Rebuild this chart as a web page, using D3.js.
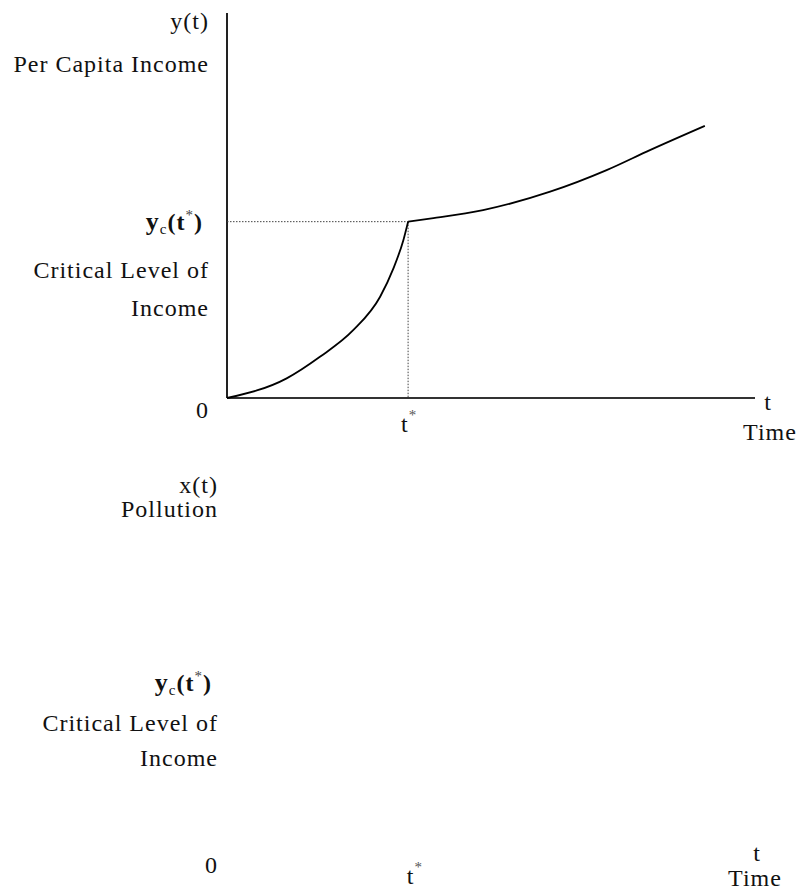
<!DOCTYPE html>
<html lang="en">
<head>
    <meta charset="UTF-8">
    <title>Per Capita Income and Pollution over Time</title>
    <script src="https://d3js.org/d3.v7.min.js"></script>
    <style>
        body {
            margin: 0;
            background: #ffffff;
        }
        svg text {
            font-family: 'Liberation Serif', 'Times New Roman', serif;
            font-size: 24px;
            letter-spacing: 1px;
            fill: #111;
        }
    </style>
</head>
<body>
<div id="chart"></div>
<script>
    // income path y(t), split at the kink t*
    const tStar = 34.3;
    const yCritical = 45.8;
    const beforeKink = [
        {t: 0, y: 0}, {t: 11.3, y: 5.1}, {t: 17.6, y: 10.7}, {t: 23.9, y: 17.6},
        {t: 29.0, y: 26.3}, {t: 31.5, y: 33.6}, {t: 33.4, y: 41.0}, {t: 34.3, y: 45.8}
    ];
    const afterKink = [
        {t: 34.3, y: 45.8}, {t: 39.1, y: 46.7}, {t: 48.5, y: 48.8}, {t: 61.2, y: 53.6},
        {t: 71.9, y: 59.2}, {t: 80.1, y: 64.4}, {t: 90.5, y: 70.7}
    ];
    const topLabels = ["y(t)", "Per Capita Income"];
    const critLabels = ["Critical Level of", "Income"];
    const bottomLabels = ["x(t)", "Pollution"];

    const width = 801, height = 890;

    const svg = d3.select("#chart").append("svg")
        .attr("width", width)
        .attr("height", height);

    // upper panel scales
    const x = d3.scaleLinear().domain([0, 100]).range([227, 755]);
    const y = d3.scaleLinear().domain([0, 100]).range([398, 13]);

    // lower panel (labels only in the source)
    const x2 = d3.scaleLinear().domain([0, 100]).range([236, 740]);
    const y2 = d3.scaleLinear().domain([0, 100]).range([853, 488]);

    // axes
    svg.append("line")
        .attr("x1", x(0)).attr("x2", x(0))
        .attr("y1", y(0)).attr("y2", y(100))
        .attr("stroke", "#222").attr("stroke-width", 2);
    svg.append("line")
        .attr("x1", x(0)).attr("x2", x(100))
        .attr("y1", y(0)).attr("y2", y(0))
        .attr("stroke", "#333").attr("stroke-width", 2);

    // dotted guides
    svg.append("line")
        .attr("x1", x(0)).attr("x2", x(tStar))
        .attr("y1", y(yCritical)).attr("y2", y(yCritical))
        .attr("stroke", "#444").attr("stroke-width", 1)
        .attr("stroke-dasharray", "1.5,1.5");
    svg.append("line")
        .attr("x1", x(tStar)).attr("x2", x(tStar))
        .attr("y1", y(yCritical)).attr("y2", y(0))
        .attr("stroke", "#444").attr("stroke-width", 1)
        .attr("stroke-dasharray", "1.5,1.5");

    const line = d3.line()
        .x(d => x(d.t))
        .y(d => y(d.y))
        .curve(d3.curveMonotoneX);

    [beforeKink, afterKink].forEach(seg => {
        svg.append("path")
            .datum(seg)
            .attr("d", line)
            .attr("fill", "none")
            .attr("stroke", "#000")
            .attr("stroke-width", 1.8);
    });

    // y_c(t*) label with sub/superscripts
    function critLabel(xr, yb) {
        const t = svg.append("text")
            .attr("x", xr).attr("y", yb)
            .attr("text-anchor", "end");
        t.append("tspan").attr("font-weight", "bold").attr("font-size", "26px").text("y");
        t.append("tspan").attr("font-size", "15px").attr("dy", 4).text("c");
        t.append("tspan").attr("font-weight", "bold").attr("dy", -4).text("(t");
        t.append("tspan").attr("font-size", "15px").attr("dy", -10).attr("fill", "#444").text("*");
        t.append("tspan").attr("font-weight", "bold").attr("dy", 10).text(")");
    }

    function tStarLabel(xl, yb) {
        const t = svg.append("text").attr("x", xl).attr("y", yb);
        t.append("tspan").text("t");
        t.append("tspan").attr("font-size", "15px").attr("dy", -12).attr("fill", "#555").text("*");
    }

    function stack(lines, xr, yb, gap) {
        lines.forEach((s, i) => {
            svg.append("text")
                .attr("x", xr).attr("y", yb + i * gap)
                .attr("text-anchor", "end")
                .text(s);
        });
    }

    // upper panel labels
    stack(topLabels, x(0) - 18, y(100) + 16, 43);
    critLabel(x(0) - 24, y(yCritical) + 8);
    stack(critLabels, x(0) - 18, y(yCritical) + 56, 38);
    svg.append("text").attr("x", x(0) - 18).attr("y", y(0) + 20)
        .attr("text-anchor", "end").text("0");
    tStarLabel(x(tStar) - 7, y(0) + 34);
    svg.append("text").attr("x", x(100) + 13).attr("y", y(0) + 12)
        .attr("text-anchor", "middle").text("t");
    svg.append("text").attr("x", x(100) + 15).attr("y", y(0) + 42)
        .attr("text-anchor", "middle").text("Time");

    // lower panel labels
    stack(bottomLabels, x2(0) - 18, y2(100) + 5, 24);
    critLabel(x2(0) - 24, y2(yCritical) + 5);
    stack(critLabels, x2(0) - 18, y2(yCritical) + 45, 35);
    svg.append("text").attr("x", x2(0) - 18).attr("y", y2(0) + 20)
        .attr("text-anchor", "end").text("0");
    tStarLabel(x2(tStar) - 2, y2(0) + 31);
    svg.append("text").attr("x", x2(100) + 17).attr("y", y2(0) + 8)
        .attr("text-anchor", "middle").text("t");
    svg.append("text").attr("x", x2(100) + 15).attr("y", y2(0) + 33)
        .attr("text-anchor", "middle").text("Time");
</script>
</body>
</html>
